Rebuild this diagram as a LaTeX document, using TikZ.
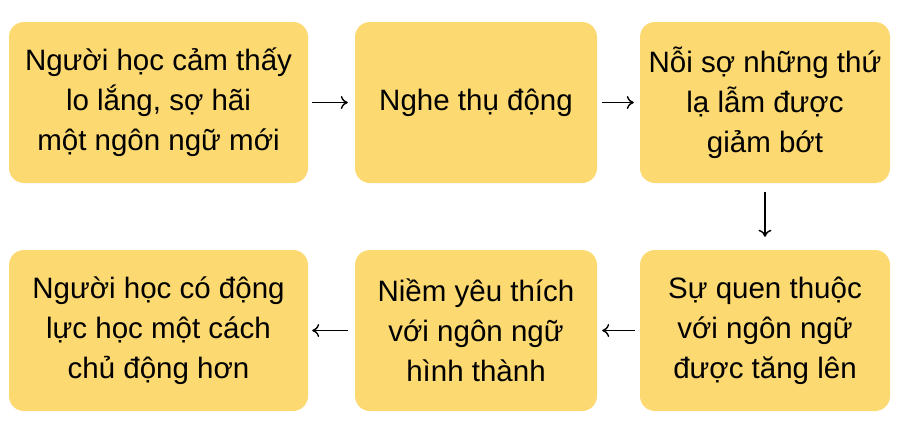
\documentclass[tikz,border=0pt]{standalone}
\usepackage{fontspec}
\setmainfont{Liberation Sans}
\usetikzlibrary{arrows.meta}
\definecolor{boxyellow}{HTML}{FCD971}
\begin{document}
\begin{tikzpicture}[x=1pt,y=-1pt,
    stage/.style={fill=boxyellow,rounded corners=15pt,align=center,
        minimum height=161pt,inner sep=0pt,
        font=\fontsize{29.5}{40}\selectfont},
    flow/.style={line width=1.4pt,-{To[length=7pt,width=13pt]}}]
    \useasboundingbox (0,0) rectangle (907,429);
    %% Top row
    \node[stage,minimum width=299pt] (fear) at (158.5,102.5)
        {Người học cảm thấy\\lo lắng, sợ hãi\\một ngôn ngữ mới};
    \node[stage,minimum width=242pt] (listen) at (476,102.5)
        {Nghe thụ động};
    \node[stage,minimum width=250pt] (calm) at (765,102.5)
        {Nỗi sợ những thứ\\lạ lẫm được\\giảm bớt};
    %% Bottom row
    \node[stage,minimum width=250pt] (familiar) at (765,330.5)
        {Sự quen thuộc\\với ngôn ngữ\\được tăng lên};
    \node[stage,minimum width=242pt] (liking) at (476,330.5)
        {Niềm yêu thích\\với ngôn ngữ\\hình thành};
    \node[stage,minimum width=299pt] (motive) at (158.5,330.5)
        {Người học có động\\lực học một cách\\chủ động hơn};
    %% Arrows
    \draw[flow,shorten <=4pt,shorten >=7pt] (fear) -- (listen);
    \draw[flow,shorten <=5pt,shorten >=6pt] (listen) -- (calm);
    \draw[flow,shorten <=9pt,shorten >=13pt] (calm) -- (familiar);
    \draw[flow,shorten <=5pt,shorten >=5pt] (familiar) -- (liking);
    \draw[flow,shorten <=7pt,shorten >=4pt] (liking) -- (motive);
\end{tikzpicture}
\end{document}
